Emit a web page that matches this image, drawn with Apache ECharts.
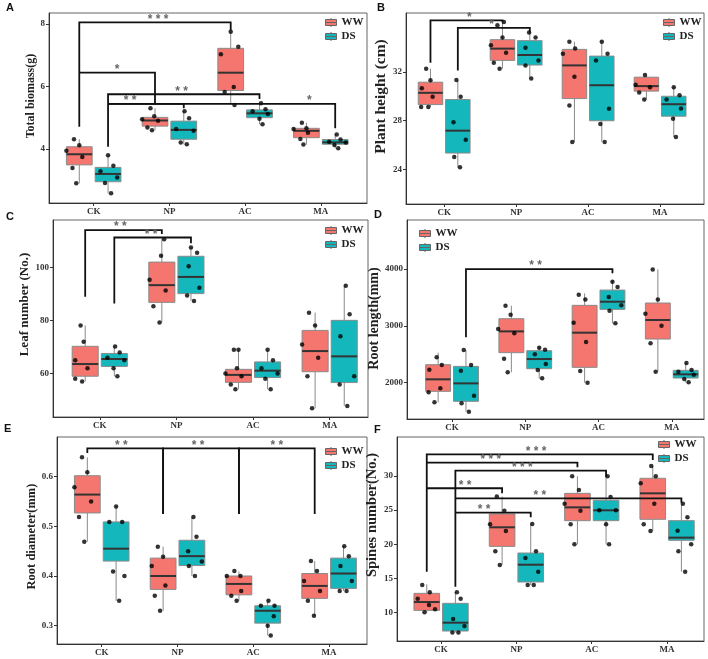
<!DOCTYPE html>
<html lang="en">
<head>
<meta charset="UTF-8" />
<script src="https://cdn.jsdelivr.net/npm/echarts@6/dist/echarts.min.js"></script>
<style>
  html, body { margin: 0; padding: 0; background: #fff; }
  #chart { width: 708px; height: 659px; }
</style>
</head>
<body>
<div id="chart"></div>
<script>
const groups = ['CK', 'NP', 'AC', 'MA'];
const treatments = ['WW', 'DS'];

// box stats per group: [min, Q1, median, Q3, max]
// points: [group, jitter, value]
// brackets: [x1, y1 end, x2, y2 end, y top, label x, label]

// A  Total biomass
const nameA = 'Total biomass(g)';
const ticksA = [4, 6, 8];
const boxA_WW = [[2.90, 3.49, 3.83, 4.07, 4.31], [4.60, 4.73, 4.91, 5.01, 5.30], [5.41, 5.87, 6.44, 7.22, 7.75], [4.14, 4.36, 4.58, 4.66, 4.84]];
const boxA_DS = [[2.58, 2.95, 3.20, 3.41, 3.80], [4.15, 4.31, 4.61, 4.89, 5.21], [4.79, 5.00, 5.14, 5.25, 5.46], [4.02, 4.15, 4.21, 4.30, 4.46]];
const ptsA_WW = [[0,-0.07,4.31],[0,0.00,4.12],[0,-0.17,3.94],[0,0.04,3.74],[0,-0.09,3.39],[0,-0.04,2.90],
  [1,-0.06,5.30],[1,-0.01,5.05],[1,-0.17,4.95],[1,0.04,4.90],[1,-0.10,4.69],[1,-0.04,4.60],
  [2,0.00,7.75],[2,0.10,7.27],[2,-0.13,7.03],[2,0.04,5.98],[2,-0.08,5.82],[2,0.05,5.41],
  [3,-0.06,4.84],[3,-0.17,4.64],[3,0.00,4.66],[3,0.02,4.52],[3,-0.08,4.32],[3,-0.04,4.14]];
const ptsA_DS = [[0,0.00,3.80],[0,0.07,3.46],[0,-0.10,3.29],[0,0.12,3.09],[0,-0.04,2.91],[0,0.04,2.58],
  [1,0.01,5.21],[1,0.07,4.98],[1,-0.10,4.64],[1,0.13,4.58],[1,-0.04,4.21],[1,0.04,4.15],
  [2,0.02,5.46],[2,0.08,5.27],[2,-0.09,5.21],[2,0.11,5.12],[2,0.00,4.97],[2,0.04,4.79],
  [3,0.02,4.46],[3,0.07,4.30],[3,-0.08,4.23],[3,0.14,4.21],[3,-0.01,4.13],[3,0.04,4.02]];
const sigA = [[-0.19, 4.71, 1.81, 7.79, 8.05, 0.85, '* * *'],
  [-0.19, 6.44, 0.81, 5.44, 6.44, 0.31, '*'],
  [0.19, 4.07, 2.19, 5.60, 5.75, 1.16, '* *'],
  [0.19, 5.44, 1.19, 5.30, 5.44, 0.48, '* *'],
  [0.19, 5.44, 3.19, 4.66, 5.44, 2.85, '*']];

// B  Plant height
const nameB = 'Plant height (cm)';
const ticksB = [24, 28, 32];
const boxB_WW = [[29.13, 29.32, 30.28, 31.15, 32.25], [32.25, 32.93, 33.89, 34.62, 36.07], [26.26, 29.81, 32.52, 33.83, 34.46], [29.73, 30.42, 30.83, 31.56, 31.73]];
const boxB_DS = [[24.21, 25.36, 27.19, 29.73, 31.32], [31.45, 32.55, 33.37, 34.54, 35.20], [26.26, 28.00, 30.90, 33.28, 34.46], [26.67, 28.37, 29.35, 30.00, 30.74]];
const ptsB_WW = [[0,-0.06,32.25],[0,0.00,31.30],[0,-0.12,30.66],[0,0.03,29.95],[0,-0.13,29.13],[0,-0.03,29.13],
  [1,0.02,36.07],[1,-0.07,35.80],[1,0.00,34.79],[1,-0.16,34.16],[1,0.05,33.56],[1,-0.12,32.74],[1,-0.04,32.25],
  [2,-0.07,34.46],[2,0.01,33.91],[2,-0.16,33.48],[2,0.00,31.59],[2,-0.07,29.24],[2,-0.03,26.26],
  [3,-0.02,31.73],[3,-0.15,30.93],[3,0.05,30.74],[3,-0.10,30.31],[3,-0.03,29.73]];
const ptsB_DS = [[0,-0.02,31.32],[0,0.04,29.95],[0,-0.06,27.87],[0,0.11,26.45],[0,-0.05,25.03],[0,0.03,24.21],
  [1,-0.01,35.20],[1,0.08,34.79],[1,-0.06,33.97],[1,0.12,32.93],[1,-0.06,32.52],[1,0.02,31.45],
  [2,0.00,34.46],[2,0.08,33.48],[2,-0.08,32.93],[2,0.10,28.97],[2,-0.02,27.74],[2,0.04,26.26],
  [3,0.00,30.74],[3,0.08,30.09],[3,-0.10,29.73],[3,0.10,29.00],[3,-0.01,28.17],[3,0.03,26.67]];
const sigB = [[-0.19, 32.74, 0.81, 36.07, 36.2, 0.35, '*'],
  [0.19, 32.1, 1.19, 35.2, 35.58, 0.66, '*']];

// C  Leaf number
const nameC = 'Leaf number (No.)';
const ticksC = [60, 80, 100];
const boxC_WW = [[56.9, 58.9, 63.5, 70.2, 78.1], [79.2, 86.8, 93.3, 102.0, 110.6], [54.0, 56.6, 59.4, 61.5, 68.9], [46.8, 60.6, 68.4, 76.2, 82.9]];
const boxC_DS = [[58.9, 62.6, 65.4, 67.5, 70.1], [87.3, 90.1, 96.4, 104.2, 107.5], [54.0, 58.4, 61.0, 64.3, 68.9], [47.7, 56.5, 66.4, 80.0, 93.1]];
const ptsC_WW = [[0,-0.06,78.1],[0,-0.02,71.9],[0,-0.13,64.9],[0,0.03,61.9],[0,-0.13,57.9],[0,-0.04,56.9],
  [1,0.03,110.6],[1,-0.01,104.4],[1,-0.16,95.3],[1,0.05,91.3],[1,-0.11,85.3],[1,-0.03,79.2],
  [2,-0.06,68.9],[2,0.00,68.9],[2,-0.02,61.9],[2,-0.17,59.9],[2,0.04,58.9],[2,-0.10,55.8],[2,-0.04,54.0],
  [3,-0.08,82.9],[3,0.00,78.1],[3,-0.17,70.9],[3,0.04,65.9],[3,-0.10,58.9],[3,-0.04,46.8]];
const ptsC_DS = [[0,0.01,70.1],[0,0.07,67.9],[0,-0.09,65.9],[0,0.13,64.9],[0,-0.01,61.9],[0,0.04,58.9],
  [1,0.00,107.5],[1,0.08,105.5],[1,-0.03,100.4],[1,0.11,92.3],[1,-0.05,89.4],[1,0.04,87.3],
  [2,0.00,68.9],[2,0.07,64.9],[2,-0.08,61.9],[2,0.13,59.9],[2,-0.03,57.9],[2,0.04,54.0],
  [3,0.02,93.1],[3,0.07,82.3],[3,-0.05,74.0],[3,0.13,58.9],[3,-0.06,55.8],[3,0.04,47.7]];
const sigC = [[-0.19, 88.9, 0.81, 112.6, 114.1, 0.27, '* *'],
  [0.19, 86.4, 1.19, 109.1, 111.3, 0.67, '* *']];

// D  Root length
const nameD = 'Root length(mm)';
const ticksD = [2000, 3000, 4000];
const boxD_WW = [[1654, 1848, 2059, 2317, 2528], [2182, 2528, 2903, 3126, 3355], [2000, 2270, 2880, 3361, 3572], [2194, 2768, 3103, 3402, 3994]];
const boxD_DS = [[1490, 1672, 1988, 2287, 2575], [2076, 2246, 2416, 2563, 2628], [3044, 3290, 3425, 3630, 3800], [2006, 2082, 2147, 2217, 2346]];
const ptsD_WW = [[0,-0.02,2446],[0,0.05,2311],[0,-0.12,2229],[0,0.03,1900],[0,-0.13,1830],[0,-0.05,1654],
  [1,-0.08,3355],[1,-0.01,3197],[1,-0.18,2944],[1,0.04,2868],[1,-0.10,2422],[1,-0.05,2182],
  [2,-0.08,3548],[2,0.01,3466],[2,-0.15,3056],[2,0.02,2716],[2,-0.06,2205],[2,0.04,2000],
  [3,-0.07,3994],[3,0.00,3466],[3,-0.17,3214],[3,0.05,3003],[3,-0.10,2692],[3,-0.03,2194]];
const ptsD_DS = [[0,-0.03,2575],[0,0.07,2311],[0,-0.07,2211],[0,0.11,1771],[0,-0.06,1636],[0,0.04,1490],
  [1,0.00,2616],[1,0.08,2581],[1,-0.06,2499],[1,0.09,2328],[1,-0.02,2223],[1,0.04,2076],
  [2,0.00,3777],[2,0.07,3683],[2,-0.05,3507],[2,0.12,3361],[2,-0.04,3267],[2,0.04,3044],
  [3,0.01,2346],[3,0.08,2223],[3,-0.10,2194],[3,0.11,2141],[3,-0.02,2065],[3,0.04,2006]];
const sigD = [[0.19, 2798, 2.19, 3924, 4000, 1.14, '* *']];

// E  Root diameter
const nameE = 'Root diameter(mm)';
const ticksE = [0.3, 0.4, 0.5, 0.6];
const boxE_WW = [[0.469, 0.527, 0.564, 0.602, 0.639], [0.330, 0.373, 0.400, 0.436, 0.459], [0.350, 0.362, 0.384, 0.400, 0.409], [0.320, 0.355, 0.380, 0.405, 0.430]];
const boxE_DS = [[0.350, 0.430, 0.455, 0.509, 0.540], [0.400, 0.421, 0.440, 0.472, 0.519], [0.280, 0.305, 0.330, 0.340, 0.350], [0.370, 0.375, 0.405, 0.436, 0.460]];
const ptsE_WW = [[0,-0.07,0.639],[0,0.00,0.609],[0,-0.17,0.579],[0,0.05,0.550],[0,-0.11,0.519],[0,-0.04,0.469],
  [1,-0.07,0.459],[1,0.00,0.439],[1,-0.15,0.420],[1,0.03,0.381],[1,-0.11,0.360],[1,-0.04,0.330],
  [2,-0.06,0.410],[2,0.02,0.400],[2,-0.16,0.400],[2,0.03,0.370],[2,-0.10,0.360],[2,-0.03,0.350],
  [3,-0.05,0.430],[3,0.03,0.410],[3,-0.14,0.390],[3,0.07,0.370],[3,-0.09,0.350],[3,-0.01,0.320]];
const ptsE_DS = [[0,0.00,0.540],[0,-0.09,0.509],[0,0.08,0.509],[0,-0.04,0.409],[0,0.11,0.400],[0,0.04,0.350],
  [1,0.02,0.519],[1,0.06,0.479],[1,-0.05,0.450],[1,0.13,0.429],[1,-0.04,0.420],[1,0.04,0.400],
  [2,0.01,0.350],[2,0.09,0.340],[2,-0.09,0.340],[2,0.08,0.319],[2,0.00,0.300],[2,0.04,0.280],
  [3,0.01,0.460],[3,0.07,0.440],[3,-0.04,0.420],[3,0.11,0.390],[3,-0.05,0.370],[3,0.04,0.370]];
const sigE = [[-0.19, 0.648, 0.81, 0.525, 0.657, 0.26, '* *'],
  [0.81, 0.525, 1.81, 0.525, 0.657, 1.27, '* *'],
  [1.81, 0.525, 2.81, 0.525, 0.657, 2.31, '* *']];

// F  Spines number
const nameF = 'Spines number(No.)';
const ticksF = [10, 15, 20, 25, 30];
const boxF_WW = [[10.05, 10.34, 11.56, 12.83, 14.15], [16.98, 19.70, 22.49, 24.44, 26.98], [20.00, 23.46, 25.41, 27.46, 29.95], [21.95, 23.66, 27.46, 29.66, 31.46]];
const boxF_DS = [[7.12, 7.32, 8.54, 11.37, 13.00], [14.05, 14.49, 17.02, 18.73, 22.98], [20.00, 23.46, 24.98, 26.44, 29.95], [16.00, 20.59, 20.98, 23.46, 25.95]];
const ptsF_WW = [[0,-0.06,14.05],[0,0.04,12.98],[0,-0.12,12.05],[0,0.03,11.12],[0,0.11,10.49],[0,-0.03,10.05],
  [1,-0.07,26.98],[1,0.03,24.93],[1,-0.16,22.93],[1,0.05,21.95],[1,-0.09,18.98],[1,-0.03,16.98],
  [2,-0.07,29.95],[2,0.02,27.95],[2,-0.17,25.95],[2,0.04,24.93],[2,-0.09,22.93],[2,-0.04,20.00],
  [3,-0.02,31.46],[3,0.04,29.95],[3,-0.16,28.93],[3,0.02,25.95],[3,-0.12,22.93],[3,-0.03,21.95]];
const ptsF_DS = [[0,0.02,13.00],[0,0.07,12.05],[0,-0.03,9.07],[0,0.12,8.05],[0,-0.04,7.12],[0,0.04,7.12],
  [1,0.02,22.98],[1,0.07,18.98],[1,-0.07,18.00],[1,0.10,16.00],[1,-0.04,14.05],[1,0.04,14.05],
  [2,0.02,29.95],[2,0.06,26.93],[2,-0.09,24.98],[2,0.13,24.98],[2,0.00,22.93],[2,0.04,20.00],
  [3,0.02,25.95],[3,0.08,23.95],[3,-0.05,22.00],[3,0.13,20.00],[3,-0.04,18.98],[3,0.05,16.00]];
const sigF = [[-0.19, 16.0, 2.81, 32.34, 33.17, 1.26, '* * *'],
  [-0.19, 31.95, 1.81, 31.27, 31.95, 0.66, '* * *'],
  [0.19, 13.8, 2.19, 29.9, 30.78, 1.08, '* * *'],
  [-0.19, 28.2, 0.81, 27.46, 28.2, 0.32, '* *'],
  [0.19, 26.73, 3.19, 26.1, 26.73, 1.31, '* *'],
  [0.19, 24.63, 1.19, 23.95, 24.63, 0.57, '* *']];

// layout of the six panels
const panels = [
  { letter: 'A', name: nameA, ticks: ticksA, box: [boxA_WW, boxA_DS], pts: [ptsA_WW, ptsA_DS], sig: sigA,
    grid: { left: 49, top: 13, width: 318, height: 190 }, xr: [-0.59, 3.61], yr: [2.27, 8.35],
    nameGap: 8, nameSize: 12, nameShift: 12, legend: [325, 17], pos: [6, 2] },
  { letter: 'B', name: nameB, ticks: ticksB, box: [boxB_WW, boxB_DS], pts: [ptsB_WW, ptsB_DS], sig: sigB,
    grid: { left: 406, top: 13, width: 298, height: 191 }, xr: [-0.53, 3.61], yr: [21.2, 36.8],
    nameGap: 12, nameSize: 15.5, nameShift: 12, legend: [663, 17], pos: [377, 2] },
  { letter: 'C', name: nameC, ticks: ticksC, box: [boxC_WW, boxC_DS], pts: [ptsC_WW, ptsC_DS], sig: sigC,
    grid: { left: 53, top: 220, width: 315, height: 197 }, xr: [-0.61, 3.5], yr: [43.5, 117.9],
    nameGap: 17, nameSize: 13, nameShift: 14, legend: [325, 225], pos: [6, 211] },
  { letter: 'D', name: nameD, ticks: ticksD, box: [boxD_WW, boxD_DS], pts: [ptsD_WW, ptsD_DS], sig: sigD,
    grid: { left: 407, top: 220, width: 297, height: 199 }, xr: [-0.615, 3.44], yr: [1361, 4863],
    nameGap: 25, nameSize: 14, nameShift: 1, legend: [419, 228], pos: [374, 209] },
  { letter: 'E', name: nameE, ticks: ticksE, box: [boxE_WW, boxE_DS], pts: [ptsE_WW, ptsE_DS], sig: sigE,
    grid: { left: 57, top: 437, width: 310, height: 207 }, xr: [-0.59, 3.5], yr: [0.263, 0.68],
    nameGap: 19, nameSize: 12.5, nameShift: 4, legend: [325, 446], pos: [4, 423] },
  { letter: 'F', name: nameF, ticks: ticksF, box: [boxF_WW, boxF_DS], pts: [ptsF_WW, ptsF_DS], sig: sigF,
    grid: { left: 397, top: 437, width: 307, height: 204 }, xr: [-0.585, 3.49], yr: [5.86, 35.7],
    nameGap: 15, nameSize: 14.5, nameShift: 24, legend: [658, 439], pos: [374, 424] }
];

const OFFSET = 0.19;
const BOX_W = 0.34;
const colors = ['#F5766E', '#14B8BC'];
const serif = 'Liberation Serif';
const KEY_ICON = 'path://M0,3H22V9H0Z M0,9H22V15H0Z M11,0V3 M11,15V18';

function renderBox(params, api) {
  const x = api.value(0);
  const w = api.size([BOX_W, 0])[0];
  const lo = api.coord([x, api.value(1)]);
  const q1 = api.coord([x, api.value(2)]);
  const md = api.coord([x, api.value(3)]);
  const q3 = api.coord([x, api.value(4)]);
  const hi = api.coord([x, api.value(5)]);
  const whisker = { stroke: '#8a8a8a', lineWidth: 1 };
  return {
    type: 'group',
    children: [
      { type: 'line', shape: { x1: hi[0], y1: hi[1], x2: q3[0], y2: q3[1] }, style: whisker },
      { type: 'line', shape: { x1: q1[0], y1: q1[1], x2: lo[0], y2: lo[1] }, style: whisker },
      { type: 'rect', shape: { x: q3[0] - w / 2, y: q3[1], width: w, height: q1[1] - q3[1] },
        style: { fill: api.visual('color'), stroke: '#8a8a8a', lineWidth: 1 } },
      { type: 'line', shape: { x1: md[0] - w / 2, y1: md[1], x2: md[0] + w / 2, y2: md[1] },
        style: { stroke: '#333', lineWidth: 2 } }
    ]
  };
}

function makeSigRenderer(list) {
  return function (params, api) {
    const s = list[params.dataIndex];
    const a = api.coord([s[0], s[1]]);
    const b = api.coord([s[0], s[4]]);
    const c = api.coord([s[2], s[4]]);
    const d = api.coord([s[2], s[3]]);
    const t = api.coord([s[5], s[4]]);
    return {
      type: 'group',
      children: [
        { type: 'polyline', shape: { points: [a, b, c, d] },
          style: { stroke: '#111', lineWidth: 1.8, fill: null } },
        { type: 'text', x: t[0], y: t[1] - 3,
          style: { text: s[6], align: 'center', verticalAlign: 'middle',
            font: 'bold 12px "Liberation Sans"', fill: '#666' } }
      ]
    };
  };
}

const option = {
  animation: false,
  backgroundColor: '#fff',
  title: [], grid: [], xAxis: [], yAxis: [], legend: [], series: []
};

panels.forEach((p, i) => {
  option.title.push({ text: p.letter, left: p.pos[0], top: p.pos[1], padding: 0,
    textStyle: { fontFamily: 'Liberation Sans', fontWeight: 'bold', fontSize: 11, color: '#111' } });
  option.grid.push(Object.assign({ show: true, borderColor: '#666', borderWidth: 1, backgroundColor: '#fff' }, p.grid));
  option.xAxis.push({
    gridIndex: i, type: 'value', min: p.xr[0], max: p.xr[1],
    axisLine: { show: true, onZero: false, lineStyle: { color: '#333', width: 1 } },
    axisTick: { show: true, length: 3, customValues: [0, 1, 2, 3], lineStyle: { color: '#333' } },
    axisLabel: { customValues: [0, 1, 2, 3], formatter: (v) => groups[Math.round(v)], margin: 4,
      fontFamily: serif, fontWeight: 'bold', fontSize: 9, color: '#333' },
    splitLine: { show: false }
  });
  option.yAxis.push({
    gridIndex: i, type: 'value', min: p.yr[0], max: p.yr[1],
    name: p.name, nameLocation: 'middle', nameGap: p.nameGap,
    nameTextStyle: { fontFamily: serif, fontWeight: 'bold', fontSize: p.nameSize, color: '#222',
      padding: [0, 0, 0, 2 * p.nameShift] },
    axisLine: { show: true, onZero: false, lineStyle: { color: '#333', width: 1 } },
    axisTick: { show: true, length: 3, customValues: p.ticks, lineStyle: { color: '#333' } },
    axisLabel: { customValues: p.ticks, formatter: (v) => String(v), margin: 4,
      fontFamily: serif, fontWeight: 'bold', fontSize: 9, color: '#333' },
    splitLine: { show: false }
  });
  treatments.forEach((t, ti) => {
    const shift = ti === 0 ? -OFFSET : OFFSET;
    option.series.push({
      type: 'custom', name: t, xAxisIndex: i, yAxisIndex: i, z: 2,
      itemStyle: { color: colors[ti] },
      encode: { x: 0, y: [1, 2, 3, 4, 5] },
      data: p.box[ti].map((b, g) => [g + shift].concat(b)),
      renderItem: renderBox
    });
    option.series.push({
      type: 'scatter', xAxisIndex: i, yAxisIndex: i, z: 3, silent: true,
      symbolSize: 4.5, itemStyle: { color: '#000' },
      data: p.pts[ti].map(([g, dx, v]) => [g + shift + dx, v])
    });
  });
  option.series.push({
    type: 'custom', xAxisIndex: i, yAxisIndex: i, z: 4, silent: true,
    encode: { x: [0, 2, 5], y: [1, 3, 4] },
    data: p.sig.map((s) => s.slice(0, 6)),
    renderItem: makeSigRenderer(p.sig)
  });
  option.legend.push({
    data: treatments.map((t) => ({ name: t, icon: KEY_ICON })),
    orient: 'vertical', left: p.legend[0], top: p.legend[1], padding: 0,
    itemWidth: 11, itemHeight: 9, itemGap: 3, selectedMode: false,
    itemStyle: { borderColor: '#666', borderWidth: 1 },
    textStyle: { fontFamily: serif, fontWeight: 'bold', fontSize: 11, color: '#222' }
  });
});

const chart = echarts.init(document.getElementById('chart'));
chart.setOption(option);
</script>
</body>
</html>
